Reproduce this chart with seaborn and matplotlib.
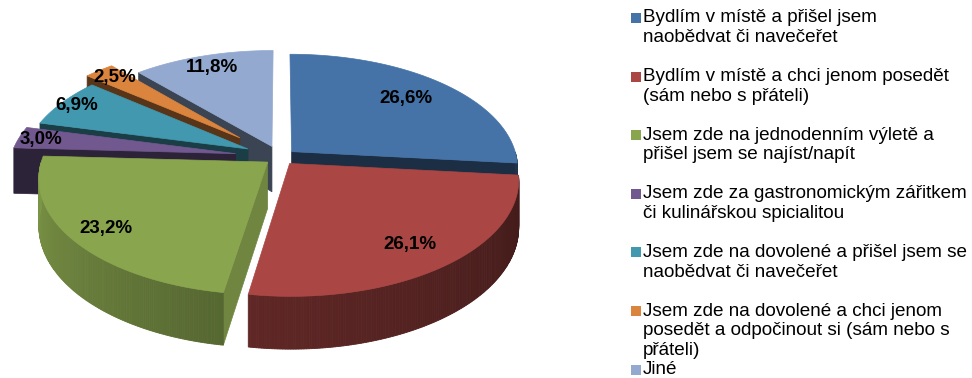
import numpy as np
import matplotlib
matplotlib.use("Agg")
import matplotlib.pyplot as plt
import seaborn as sns
from matplotlib.patches import Polygon, Rectangle

# ---------------- data ----------------
categories = [
    "Bydlím v místě a přišel jsem\nnaobědvat či navečeřet",
    "Bydlím v místě a chci jenom posedět\n(sám nebo s přáteli)",
    "Jsem zde na jednodenním výletě a\npřišel jsem se najíst/napít",
    "Jsem zde za gastronomickým zářitkem\nči kulinářskou spicialitou",
    "Jsem zde na dovolené a přišel jsem se\nnaobědvat či navečeřet",
    "Jsem zde na dovolené a chci jenom\nposedět a odpočinout si (sám nebo s\npřáteli)",
    "Jiné",
]
values = [26.6, 26.1, 23.2, 3.0, 6.9, 2.5, 11.8]
colors = ["#4572A7", "#AA4643", "#89A54E", "#71588F", "#4198AF", "#DB843D", "#93A9CF"]

# ---------------- style / layout ----------------
explode = [0.07, 0.07, 0.07, 0.20, 0.16, 0.25, 0.10]
label_r = [0.75, 0.80, 0.85, 0.90, 0.92, 0.88, 0.85]
side_hi = [0.45, 0.56, 0.92, 0.40, 0.40, 0.40, 0.40]
CX, CY = 280.0, 157.0
RX, RY = 225.0, 115.0
K = 0.14
DEPTH = 46.0

sns.set_theme(style="white")
plt.rcParams["font.family"] = ["Liberation Sans", "DejaVu Sans"]
palette = sns.color_palette(colors)

fig = plt.figure(figsize=(9.72, 3.78), dpi=100)
ax = fig.add_axes([0, 0, 1, 1])
ax.set_xlim(0, 972)
ax.set_ylim(378, 0)
ax.axis("off")


def proj(u, v, z=0.0):
    u = np.asarray(u, dtype=float)
    v = np.asarray(v, dtype=float)
    s = 1 - K * v
    return CX + RX * u * s, CY - RY * v * s + DEPTH * s * z


def shade(c, f):
    return tuple(np.clip(np.array(c) * f, 0, 1))


vals = np.array(values, dtype=float)
fr = vals / vals.sum()
starts = 90 - 360 * np.concatenate([[0], np.cumsum(fr)[:-1]])
ends = starts - 360 * fr
mids = (starts + ends) / 2

order = np.argsort(-np.sin(np.radians(mids)))

for i in order:
    t1, t2, m = starts[i], ends[i], mids[i]
    e = explode[i]
    ox, oy = e * np.cos(np.radians(m)), e * np.sin(np.radians(m))
    col = palette[i]

    # radial cut faces
    for a, nrm in [(t1, t1 + 90), (t2, t2 - 90)]:
        if np.sin(np.radians(nrm)) < 0:
            ra = np.radians(a)
            ru, rv = ox + np.cos(ra), oy + np.sin(ra)
            pts = [proj(ox, oy, 0), proj(ru, rv, 0), proj(ru, rv, 1), proj(ox, oy, 1)]
            f = 0.4 + 0.42 * max(np.cos(np.radians(nrm)), 0)
            c = shade(col, f)
            ax.add_patch(Polygon([(float(x), float(y)) for x, y in pts], closed=True,
                                 facecolor=c, edgecolor=c, lw=0.5))

    # outer curved side (front only)
    ts = np.linspace(t1, t2, 160)
    for j in range(len(ts) - 1):
        ta, tb = ts[j], ts[j + 1]
        tm = (ta + tb) / 2
        if np.sin(np.radians(tm)) >= 0:
            continue
        k = (tm - t2) / (t1 - t2)
        c = shade(col, side_hi[i] * (1 - 0.32 * k))
        ua, va = ox + np.cos(np.radians(ta)), oy + np.sin(np.radians(ta))
        ub, vb = ox + np.cos(np.radians(tb)), oy + np.sin(np.radians(tb))
        pts = [proj(ua, va, 0), proj(ub, vb, 0), proj(ub, vb, 1), proj(ua, va, 1)]
        ax.add_patch(Polygon([(float(x), float(y)) for x, y in pts], closed=True,
                             facecolor=c, edgecolor=c, lw=0.6))

    # top face
    rts = np.radians(np.linspace(t1, t2, 200))
    xs, ys = proj(ox + np.cos(rts), oy + np.sin(rts), 0)
    axp, ayp = proj(ox, oy, 0)
    poly = [(float(axp), float(ayp))] + list(zip(xs.tolist(), ys.tolist()))
    ax.add_patch(Polygon(poly, closed=True, facecolor=col, edgecolor=col, lw=0.5))

# percentage labels
for i in range(len(values)):
    m = np.radians(mids[i])
    e = explode[i]
    r = label_r[i]
    lx, ly = proj(e * np.cos(m) + r * np.cos(m), e * np.sin(m) + r * np.sin(m), 0)
    txt = f"{values[i]:.1f}".replace(".", ",") + "%"
    ax.text(float(lx), float(ly), txt, ha="center", va="center",
            fontsize=13.5, fontweight="bold", color="black")

# legend
LEG_X_BOX = 631
LEG_X_TXT = 643
LEG_TOP = 18
LEG_STEP = 58.6
LINE_STEP = 19.7
for i, lab in enumerate(categories):
    y0 = LEG_TOP + i * LEG_STEP
    ax.add_patch(Rectangle((LEG_X_BOX, y0 - 5), 10, 10, facecolor=palette[i], edgecolor="none"))
    for j, line in enumerate(lab.split("\n")):
        ax.text(LEG_X_TXT, y0 + j * LINE_STEP, line, ha="left", va="center",
                fontsize=13.6, color="black")

fig.savefig("out.png", dpi=100)
